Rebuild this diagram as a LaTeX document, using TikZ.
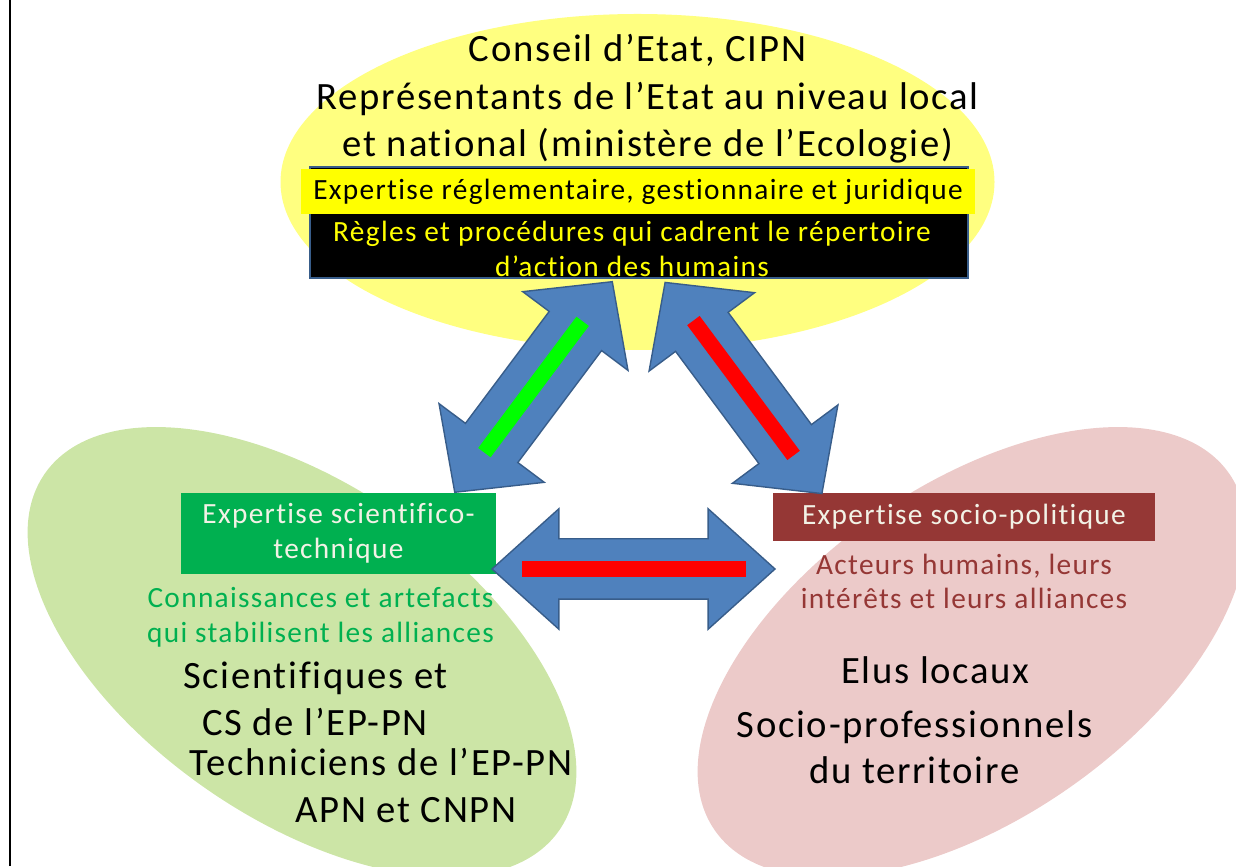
\documentclass[tikz,border=0pt]{standalone}
\usepackage{fontspec}
\setmainfont{Carlito}[LetterSpace=4.5, Ligatures=NoCommon]
\usepackage{tikz}
\usetikzlibrary{shapes.geometric,shapes.arrows}
\definecolor{stateYellow}{RGB}{255,255,128}
\definecolor{regYellow}{RGB}{255,255,0}
\definecolor{sciZoneGreen}{RGB}{204,229,166}
\definecolor{polZonePink}{RGB}{236,202,201}
\definecolor{sciGreen}{RGB}{0,176,80}
\definecolor{polBrown}{RGB}{149,55,53}
\definecolor{boxText}{RGB}{242,242,230}
\definecolor{arrowBlue}{RGB}{79,129,189}
\definecolor{arrowEdge}{RGB}{56,93,138}
\definecolor{barGreen}{RGB}{0,255,0}
\definecolor{barRed}{RGB}{255,0,0}
\tikzset{
  zone/.style={ellipse, inner sep=0pt, draw=none},
  bigtext/.style={anchor=base, inner sep=0pt, font=\fontsize{22}{26}\selectfont},
  midtext/.style={align=center, inner sep=0pt, font=\fontsize{16.7}{19.8}\selectfont},
  tagbox/.style={midtext, text=boxText},
  twoway/.style={double arrow, draw=arrowEdge, fill=arrowBlue, line width=0.8pt, inner xsep=0pt, text height=0pt, text depth=0pt, double arrow head indent=0pt},
  diaglink/.style={twoway, minimum height=5.26cm, minimum width=2.6cm, inner ysep=0.64cm, double arrow head extend=0.66cm, double arrow tip angle=93.7},
  bar/.style={inner sep=0pt, minimum height=0.31cm}
}

\begin{document}
\begin{tikzpicture}
  \useasboundingbox (0,0) rectangle (24.72,17.32);
  \draw[line width=1.1pt] (0.2,0) -- (0.2,17.32);

  % three zones
  \node[zone, fill=stateYellow, minimum width=14.28cm, minimum height=6.72cm] (stateZone) at (12.75,13.68) {};
  \node[zone, fill=sciZoneGreen, minimum width=12.52cm, minimum height=6.68cm, rotate=-34.7] (sciZone) at (6.04,4.28) {};
  \node[zone, fill=polZonePink, minimum width=12.52cm, minimum height=6.68cm, rotate=34.7] (polZone) at (19.44,4.28) {};

  % state actors
  \node[bigtext] (stateA) at (12.75,16.08) {Conseil d’Etat, CIPN};
  \node[bigtext] (stateB) at (12.95,15.12) {Représentants de l’Etat au niveau local};
  \node[bigtext] (stateC) at (12.96,14.18) {et national (ministère de l’Ecologie)};
  \node[draw=arrowEdge, line width=1.2pt, fill=black, minimum width=13.16cm, minimum height=2.22cm] (rulesBox) at (12.78,12.87) {};
  \node[midtext, fill=regYellow, minimum width=13.48cm, minimum height=0.9cm] (regBox) at (12.76,13.49) {Expertise réglementaire, gestionnaire et juridique};
  \node[midtext, text=regYellow] (rulesText) at (12.64,12.34) {Règles et procédures qui cadrent le répertoire\\d’action des humains};

  % scientific side
  \node[tagbox, fill=sciGreen, minimum width=6.3cm, minimum height=1.62cm] (sciBox) at (6.77,6.65) {Expertise scientifico-\\technique};
  \node[midtext, text=sciGreen] (sciText) at (6.41,4.97) {Connaissances et artefacts\\qui stabilisent les alliances};
  \node[bigtext] (sciA) at (6.31,3.56) {Scientifiques et};
  \node[bigtext] (sciB) at (6.30,2.62) {CS de l’EP-PN};
  \node[bigtext] (sciC) at (7.62,1.82) {Techniciens de l’EP-PN};
  \node[bigtext] (sciD) at (8.12,0.88) {APN et CNPN};

  % socio-political side
  \node[tagbox, fill=polBrown, minimum width=7.64cm, minimum height=0.96cm] (polBox) at (19.28,6.98) {Expertise socio-politique};
  \node[midtext, text=polBrown] (polText) at (19.28,5.69) {Acteurs humains, leurs\\intérêts et leurs alliances};
  \node[bigtext] (polA) at (18.71,3.66) {Elus locaux};
  \node[bigtext] (polB) at (18.29,2.58) {Socio-professionnels};
  \node[bigtext] (polC) at (18.29,1.66) {du territoire};

  % links
  \node[diaglink, rotate=53.2] (stateSciLink) at (10.67,9.58) {};
  \node[diaglink, rotate=126.6] (statePolLink) at (14.87,9.56) {};
  \node[twoway, minimum height=5.66cm, minimum width=2.38cm, inner ysep=0.59cm, double arrow head extend=0.6cm, double arrow tip angle=84] (sciPolLink) at (12.67,5.94) {};
  \node[bar, fill=barGreen, minimum width=3.28cm, rotate=53.2] (stateSciBar) at (stateSciLink.center) {};
  \node[bar, fill=barRed, minimum width=3.36cm, rotate=126.6] (statePolBar) at (statePolLink.center) {};
  \node[bar, fill=barRed, minimum width=4.48cm] (sciPolBar) at (sciPolLink.center) {};
\end{tikzpicture}
\end{document}
